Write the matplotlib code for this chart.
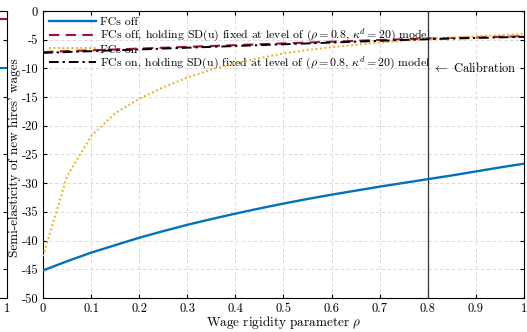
import matplotlib
matplotlib.use("Agg")
import matplotlib.pyplot as plt

plt.rcParams["font.family"] = "cmr10"
plt.rcParams["mathtext.fontset"] = "cm"
plt.rcParams["axes.unicode_minus"] = False
plt.rcParams["axes.formatter.use_mathtext"] = False

rho = [0.0, 0.05, 0.1, 0.15, 0.2, 0.25, 0.3, 0.35, 0.4, 0.45, 0.5,
       0.55, 0.6, 0.65, 0.7, 0.75, 0.8, 0.85, 0.9, 0.95, 1.0]

fcs_off = [-45.2, -43.6, -42.1, -40.8, -39.5, -38.35, -37.25, -36.25, -35.3, -34.4, -33.55,
           -32.75, -32.0, -31.3, -30.6, -29.95, -29.3, -28.65, -27.95, -27.25, -26.6]
fcs_off_fixed_sd = [-7.15, -7.0, -6.85, -6.7, -6.55, -6.4, -6.25, -6.1, -5.95, -5.8, -5.65,
                    -5.5, -5.35, -5.2, -5.05, -4.92, -4.8, -4.7, -4.6, -4.5, -4.4]
fcs_on = [-42.7, -28.8, -21.8, -17.8, -15.3, -13.3, -11.6, -10.2, -9.1, -8.2, -7.4,
          -6.8, -6.3, -5.9, -5.5, -5.2, -4.9, -4.6, -4.4, -4.2, -4.0]
fcs_on_fixed_sd = [-7.3, -7.15, -7.0, -6.85, -6.7, -6.55, -6.4, -6.25, -6.1, -5.95, -5.8,
                   -5.65, -5.5, -5.35, -5.2, -5.05, -4.92, -4.8, -4.7, -4.6, -4.5]

labels = [
    "FCs off",
    r"FCs off, holding SD(u) fixed at level of ($\rho = 0.8$, $\kappa^d = 20$) model",
    "FCs on",
    r"FCs on, holding SD(u) fixed at level of ($\rho = 0.8$, $\kappa^d = 20$) model",
]

# right end of the neighbouring panel
side_x = [0.9, 1.0]
side_top = [-1.4, -1.4]
side_low = [-9.9, -9.9]

blue = "#0072BD"
red = "#A2142F"
yellow = "#EDB120"

fig = plt.figure(figsize=(5.27, 3.32), dpi=100)

side = fig.add_axes([-0.9, 0.1024, 0.9133, 0.8645])
side.plot(side_x, side_top, color=red, lw=1.5, ls=(0, (5, 3)))
side.plot(side_x, side_low, color=blue, lw=1.5)
side.set_xlim(0, 1)
side.set_ylim(-50, 0)
side.set_xticks([1])
side.set_xticklabels(["1"])
side.set_yticks([-45, -35, -25, -15, -5])
side.set_yticklabels([])
side.tick_params(direction="in", length=3, labelsize=9, right=True, top=True)

ax = fig.add_axes([0.0816, 0.1024, 0.9127, 0.8645])
ax.grid(True, ls=(0, (4, 3)), color="#d4d4d4", lw=0.6)
ax.set_axisbelow(True)

ax.plot(rho, fcs_off, color=blue, lw=1.7, label=labels[0], zorder=3)
ax.plot(rho, fcs_off_fixed_sd, color=red, lw=1.5, ls=(0, (5, 3)), label=labels[1], zorder=3)
ax.plot(rho, fcs_on, color=yellow, lw=1.4, ls=(0, (1, 1.3)), label=labels[2], zorder=3)
ax.plot(rho, fcs_on_fixed_sd, color="black", lw=1.4, ls=(0, (5, 2, 1.2, 2)), label=labels[3], zorder=3)

ax.axvline(0.8, color="#333333", lw=0.9, zorder=2)
ax.text(0.808, -10, r"$\leftarrow$ Calibration", fontsize=9, va="center", ha="left")

ax.set_xlim(0, 1)
ax.set_ylim(-50, 0)
ax.set_xticks([i / 10 for i in range(11)])
ax.set_xticklabels(["0", "0.1", "0.2", "0.3", "0.4", "0.5", "0.6", "0.7", "0.8", "0.9", "1"])
ax.set_yticks(range(-50, 1, 5))
ax.tick_params(direction="in", length=3, labelsize=9, right=True, top=True)
for s in ax.spines.values():
    s.set_linewidth(0.8)

ax.set_xlabel(r"Wage rigidity parameter $\rho$", fontsize=9.5)
ax.set_ylabel("Semi-elasticity of new hires' wages", fontsize=9.5)
ax.xaxis.set_label_coords(0.5, -0.055)
ax.yaxis.set_label_coords(-0.045, 0.49)

leg = ax.legend(loc="upper left", frameon=False, fontsize=8.5, handlelength=4.0,
                handletextpad=0.3, labelspacing=0.0, borderaxespad=0.2, borderpad=0.3)
leg.set_zorder(1)

fig.savefig("out.png", dpi=100)
